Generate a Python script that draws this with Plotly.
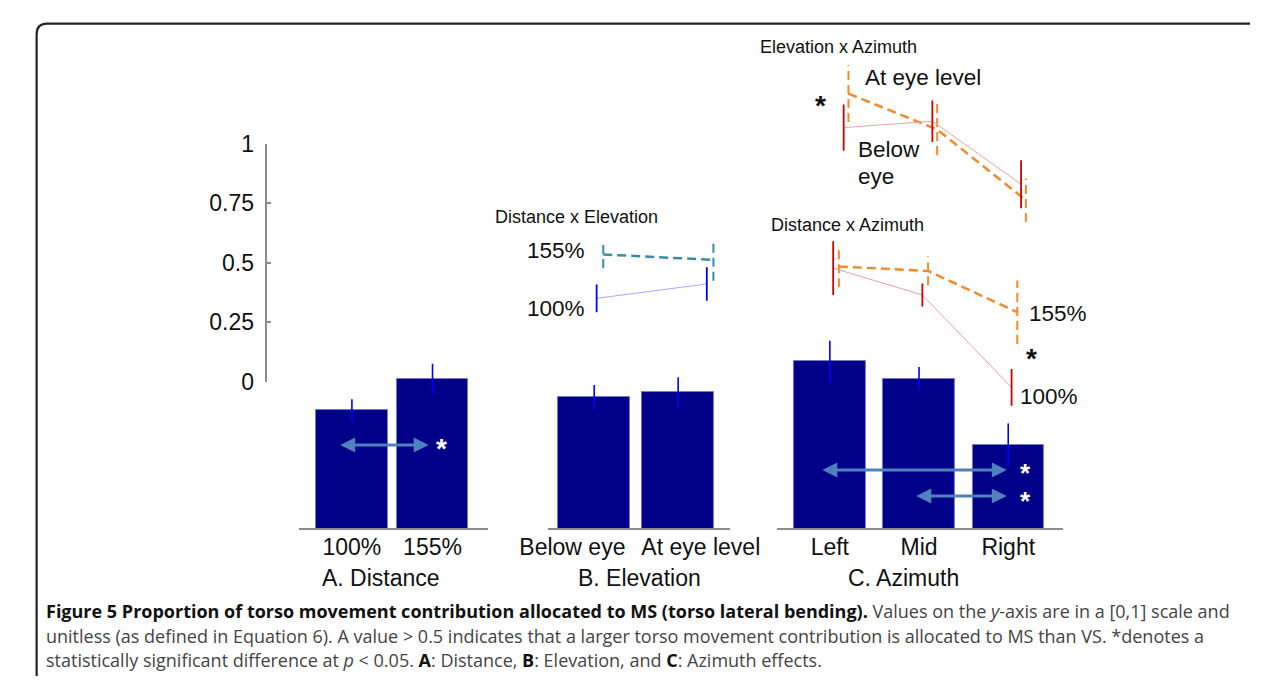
import plotly.graph_objects as go

W, H = 1281, 690

# ---------------- data ----------------
y_ticks = [0, 0.25, 0.5, 0.75, 1]
y_ticklabels = ['0', '0.25', '0.5', '0.75', '1']

dist_cats = ['100%', '155%']
dist_vals = [0.502, 0.637]
dist_err = [0.047, 0.063]

elev_cats = ['Below eye', 'At eye level']
elev_vals = [0.559, 0.580]
elev_err = [0.051, 0.063]

azim_cats = ['Left', 'Mid', 'Right']
azim_vals = [0.710, 0.637, 0.355]
azim_err = [0.088, 0.049, 0.092]

# interaction insets
dxe_155 = [0.539, 0.516]
dxe_155_err = [0.057, 0.088]
dxe_100 = [0.353, 0.414]
dxe_100_err = [0.059, 0.071]

exa_eye = [0.760, 0.608, 0.308]
exa_eye_err = [0.120, 0.108, 0.092]
exa_below = [0.616, 0.643, 0.376]
exa_below_err = [0.098, 0.088, 0.102]

dxa_155 = [0.680, 0.661, 0.486]
dxa_155_err = [0.088, 0.061, 0.135]
dxa_100 = [0.673, 0.559, 0.167]
dxa_100_err = [0.114, 0.049, 0.078]

# ---------------- helpers (layout only) ----------------
PPU = 245.0  # pixels per data unit


def px(x):
    return x / W


def py(y):
    return 1 - y / H


def yrange(zero_px):
    return [(zero_px - H) / PPU, zero_px / PPU]


def bar_xaxis(left, right, c0, step):
    return dict(domain=[px(left), px(right)], range=[(left - c0) / step, (right - c0) / step])


def inset_xrange(c0, step):
    return [(0 - c0) / step, (W - c0) / step]


def err_segments(xs, ys, es):
    X, Y = [], []
    for x, y, e in zip(xs, ys, es):
        X += [x, x, None]
        Y += [y - e, y + e, None]
    return X, Y


FONT = 'Liberation Sans, Arial, sans-serif'
NAVY = '#000088'
BAR_EDGE = '#7a7ac0'
ORANGE = '#f28a2e'
TEAL = '#3b8ba6'
DARKRED = '#cc0000'
PINK = '#f2a0a0'
BLUE = '#0000ff'
LIGHTBLUE = '#a8a8ff'
ARROW = '#4f81bd'

fig = go.Figure()

# dummy trace for visible y axis
fig.add_trace(go.Scatter(x=[None], y=[None], xaxis='x', yaxis='y', showlegend=False, hoverinfo='skip'))

# ---------------- bars ----------------
for cats, vals, err, xa, w in [
    (dist_cats, dist_vals, dist_err, 'x2', 75 / 84.5),
    (elev_cats, elev_vals, elev_err, 'x3', 75 / 88.0),
    (azim_cats, azim_vals, azim_err, 'x4', 75 / 93.5),
]:
    fig.add_trace(go.Bar(
        x=list(range(len(cats))), y=vals, width=w, xaxis=xa, yaxis='y2',
        marker=dict(color=NAVY, line=dict(color=BAR_EDGE, width=1)),
        error_y=dict(type='data', array=err, color=BLUE, thickness=1.6, width=0),
        showlegend=False, hoverinfo='skip'))


# ---------------- insets ----------------
def add_series(vals, errs, xa, ya, offset, line_color, err_color, dashed):
    xs = [i + offset for i in range(len(vals))]
    dash = '9px,5px' if dashed else 'solid'
    lw = 2.5 if dashed else 1
    fig.add_trace(go.Scatter(x=xs, y=vals, mode='lines', xaxis=xa, yaxis=ya,
                             line=dict(color=line_color, width=lw, dash=dash),
                             showlegend=False, hoverinfo='skip'))
    ex, ey = err_segments(xs, vals, errs)
    fig.add_trace(go.Scatter(x=ex, y=ey, mode='lines', xaxis=xa, yaxis=ya,
                             line=dict(color=err_color, width=2 if dashed else 1.8, dash=dash),
                             showlegend=False, hoverinfo='skip'))


add_series(dxe_155, dxe_155_err, 'x5', 'y5', 0.03, TEAL, TEAL, True)
add_series(dxe_100, dxe_100_err, 'x5', 'y5', -0.03, LIGHTBLUE, BLUE, False)
add_series(exa_eye, exa_eye_err, 'x6', 'y6', 0.027, ORANGE, ORANGE, True)
add_series(exa_below, exa_below_err, 'x6', 'y6', -0.027, PINK, DARKRED, False)
add_series(dxa_155, dxa_155_err, 'x7', 'y7', 0.032, ORANGE, ORANGE, True)
add_series(dxa_100, dxa_100_err, 'x7', 'y7', -0.032, PINK, DARKRED, False)

# ---------------- axes ----------------
hidden = dict(visible=False, fixedrange=True)
base_y = py(536)
bar_x_common = dict(anchor='free', position=base_y, showline=True, linecolor='#8c8c8c', linewidth=2,
                    ticks='', showgrid=False, zeroline=False, tickangle=0, tickmode='array',
                    tickfont=dict(family=FONT, size=23, color='#111'), ticklabelstandoff=-2)

# B labels sit slightly outside the bar centres in the reference
elev_tickpos = [-0.26, 1.27]

layout = dict(
    width=W, height=H,
    margin=dict(l=0, r=0, t=0, b=0),
    paper_bgcolor='white', plot_bgcolor='rgba(0,0,0,0)',
    showlegend=False, bargap=0,
    xaxis=dict(domain=[px(248), px(300)], visible=False, range=[0, 1]),
    yaxis=dict(domain=[py(383), py(136)], range=[0, 1], anchor='free', position=px(248),
               tickvals=y_ticks, ticktext=y_ticklabels, ticks='inside', ticklen=4,
               tickcolor='#8c8c8c', tickwidth=1.5, showline=True, linecolor='#8c8c8c', linewidth=2,
               showgrid=False, zeroline=False, ticklabelstandoff=6,
               tickfont=dict(family=FONT, size=23, color='#111')),
    xaxis2=dict(**bar_xaxis(283, 481, 338.5, 84.5), **bar_x_common,
                tickvals=list(range(len(dist_cats))), ticktext=dist_cats),
    xaxis3=dict(**bar_xaxis(544, 735, 592.5, 88.0), **bar_x_common,
                tickvals=elev_tickpos, ticktext=elev_cats),
    xaxis4=dict(**bar_xaxis(784, 1084, 839.5, 93.5), **bar_x_common,
                tickvals=list(range(len(azim_cats))), ticktext=azim_cats),
    yaxis2=dict(domain=[0, 1], range=yrange(536), anchor='x2', **hidden),
    xaxis5=dict(domain=[0, 1], range=inset_xrange(598.5, 115.5), anchor='y5', **hidden),
    yaxis5=dict(domain=[0, 1], range=yrange(383), anchor='x5', **hidden),
    xaxis6=dict(domain=[0, 1], range=inset_xrange(856.5, 93.0), anchor='y6', **hidden),
    yaxis6=dict(domain=[0, 1], range=yrange(270), anchor='x6', **hidden),
    xaxis7=dict(domain=[0, 1], range=inset_xrange(846.0, 93.5), anchor='y7', **hidden),
    yaxis7=dict(domain=[0, 1], range=yrange(430), anchor='x7', **hidden),
)
fig.update_layout(**layout)

# ---------------- text annotations ----------------
ann = []


def text(t, x, y, size, color='#111', xanchor='left', family=FONT):
    ann.append(dict(text=t, x=px(x), y=py(y), xref='paper', yref='paper', xanchor=xanchor,
                    yanchor='middle', showarrow=False,
                    font=dict(family=family, size=size, color=color)))


# group titles
text('A. Distance', 369, 587, 23, xanchor='center')
text('B. Elevation', 640, 587, 23, xanchor='center')
text('C. Azimuth', 917, 587, 23, xanchor='center')

# inset titles
text('Distance x Elevation', 486, 212, 18)
text('Elevation x Azimuth', 764, 35, 18)
text('Distance x Azimuth', 776, 220, 18)

# inset labels
text('155%', 520, 247, 22.5)
text('100%', 520, 307, 22.5)
text('At eye level', 874, 67, 22.5)
text('Below', 867, 142, 22.5)
text('eye', 867, 170, 22.5)
text('155%', 1046, 312, 22.5)
text('100%', 1037, 398, 22.5)

# stars
text('<b>*</b>', 830, 96, 28, xanchor='center')
text('<b>*</b>', 1051, 359, 28, xanchor='center')
text('<b>*</b>', 432, 453, 28, color='white', xanchor='center')
text('<b>*</b>', 1045, 478, 26, color='white', xanchor='center')
text('<b>*</b>', 1045, 507, 26, color='white', xanchor='center')

# arrows (double headed)
for x0, x1, yy in [(329, 419, 449), (839, 1025, 475), (933, 1025, 502)]:
    ann.append(dict(text='', x=px(x1), y=py(yy), xref='paper', yref='paper',
                    ax=x0 - x1, ay=0, axref='pixel', ayref='pixel', showarrow=True,
                    arrowhead=2, startarrowhead=2, arrowside='end+start', arrowsize=1,
                    startarrowsize=1, arrowwidth=3, arrowcolor=ARROW, standoff=0, startstandoff=0))

# caption
CAP = 'Open Sans, Noto Sans, sans-serif'
CS = 18
text('<b>Figure 5 Proportion of torso movement contribution allocated to MS (torso lateral bending).</b>'
     '<span style="color:#444"> Values on the <i>y</i>-axis are in a [0,1] scale and</span>',
     16, 621, CS, color='#111', family=CAP)
text('unitless (as defined in Equation 6). A value &gt; 0.5 indicates that a larger torso movement '
     'contribution is allocated to MS than VS. *denotes a', 16, 647, CS, color='#444', family=CAP)
text('statistically significant difference at <i>p</i> &lt; 0.05. <b style="color:#111">A</b>: Distance, '
     '<b style="color:#111">B</b>: Elevation, and <b style="color:#111">C</b>: Azimuth effects.',
     16, 672, CS, color='#444', family=CAP)

fig.update_layout(annotations=ann)

# rounded border (top and left), kept inside the paper
r = 11
path = (f'M {px(8)} {py(H - 1)} L {px(8)} {py(11 + r)} '
        f'Q {px(8)} {py(11)} {px(8 + r)} {py(11)} L {px(W - 1)} {py(11)}')
fig.add_shape(type='path', path=path, xref='paper', yref='paper',
              line=dict(color='#222', width=2.2))

fig.write_html('out.html', config={'displayModeBar': False},
               post_script="document.body.style.margin='0';"
                           "document.documentElement.style.overflow='hidden';")
